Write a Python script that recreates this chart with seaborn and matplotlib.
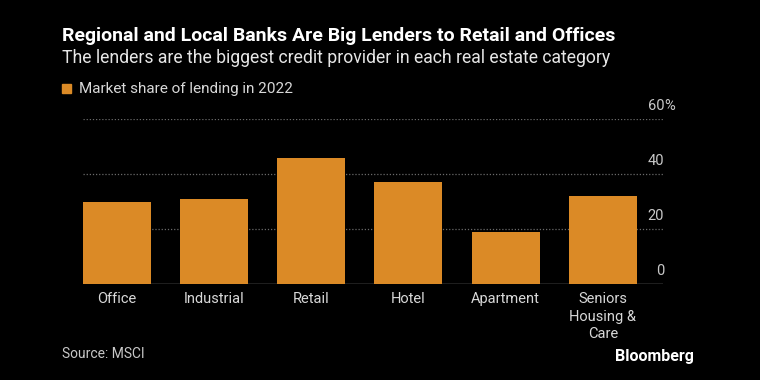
import matplotlib
matplotlib.use("Agg")
import matplotlib.pyplot as plt
import matplotlib.transforms as mtransforms
import seaborn as sns
import pandas as pd

# Daten
categories = ["Office", "Industrial", "Retail", "Hotel", "Apartment", "Seniors\nHousing &\nCare"]
market_share = [30, 31, 46, 37, 19, 32]
y_ticks = [0, 20, 40, 60]
y_tick_labels = ["0", "20", "40", "60"]

title = "Regional and Local Banks Are Big Lenders to Retail and Offices"
subtitle = "The lenders are the biggest credit provider in each real estate category"
legend_label = "Market share of lending in 2022"
source = "Source: MSCI"

bar_color = "#DB8A26"
bg = "#000000"

sns.set_theme(style="dark")
plt.rcParams["font.family"] = ["Roboto", "DejaVu Sans"]

df = pd.DataFrame({"Kategorie": categories, "Anteil": market_share})

fig = plt.figure(figsize=(7.6, 3.8), dpi=100, facecolor=bg)
ax = fig.add_axes([83 / 760, 1 - 284 / 380, (663 - 83) / 760, (284 - 119.3) / 380])
ax.set_facecolor(bg)

sns.barplot(data=df, x="Kategorie", y="Anteil", color=bar_color, saturation=1,
            width=0.7, linewidth=0, ax=ax)

ax.set_xlim(-0.35, 5.62)
ax.set_ylim(0, 60)
ax.set_xlabel("")
ax.set_ylabel("")
for s in ax.spines.values():
    s.set_visible(False)

# Gitterlinien
for t in y_ticks[1:]:
    ax.axhline(t, color="#6a6a6a", lw=0.9, ls=(0, (1, 1.5)), zorder=0)
ax.axhline(0, color="#9a9a9a", lw=1.0, zorder=0)

# Y-Beschriftung rechts oberhalb der Linien
ax.set_yticks([])
trans = mtransforms.blended_transform_factory(ax.transAxes, ax.transData)
off = mtransforms.ScaledTranslation(1 / 100, 13 / 100, fig.dpi_scale_trans)
for t, lab in zip(y_ticks, y_tick_labels):
    ax.text(1.0, t, lab, transform=trans + off,
            ha="right", va="center", color="#c8c8c8", fontsize=10.5)
ax.text(1.0, 60, "%", transform=trans + off,
        ha="left", va="center", color="#c8c8c8", fontsize=10.5)

ax.tick_params(axis="x", length=0, pad=6, colors="#d8d8d8", labelsize=10.5)
ax.tick_params(axis="y", length=0)
for lbl in ax.get_xticklabels():
    lbl.set_verticalalignment("top")
    lbl.set_linespacing(1.3)

# Titel und Legende
fig.text(62 / 760, 1 - 36 / 380, title, color="white", fontsize=14, fontweight="bold", va="center")
fig.text(62 / 760, 1 - 58 / 380, subtitle, color="#e6e6e6", fontsize=12.7, va="center")
fig.patches.append(plt.Rectangle((62 / 760, 1 - 93 / 380), 9 / 760, 9 / 380, transform=fig.transFigure,
                                 color=bar_color, figure=fig))
fig.text(79 / 760, 1 - 88.5 / 380, legend_label, color="#d8d8d8", fontsize=11, va="center")

fig.text(62 / 760, 1 - 354 / 380, source, color="#c8c8c8", fontsize=10, va="center")
fig.text(694 / 760, 1 - 357 / 380, "Bloomberg", color="white", fontsize=11.5, fontweight="bold",
         va="center", ha="right")

plt.savefig("out.png", dpi=100, facecolor=bg)
